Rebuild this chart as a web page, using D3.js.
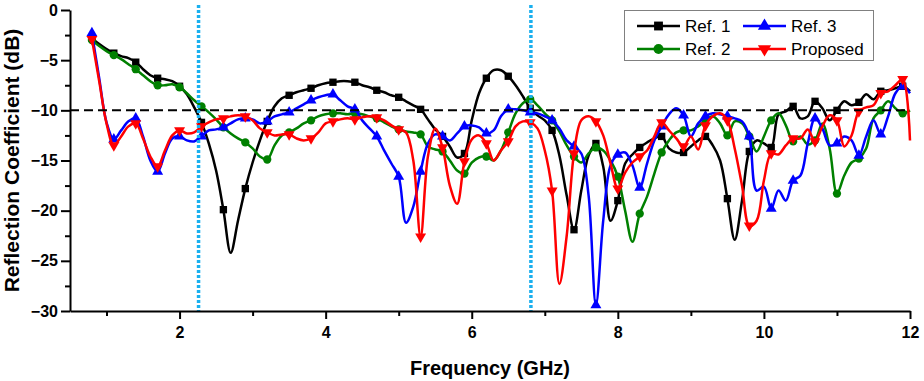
<!DOCTYPE html>
<html>
<head>
<meta charset="utf-8">
<script src="https://cdn.jsdelivr.net/npm/d3@7"></script>
<style>
  body { margin: 0; background: #fff; }
  text { font-family: "Liberation Sans", Arial, sans-serif; }
</style>
</head>
<body>
<div id="chart"></div>
<script>
// frequency grid (GHz)
const freq = [
  0.8, 0.9, 1.0, 1.1, 1.2, 1.3, 1.4, 1.5, 1.6, 1.7, 1.8, 1.9,
  2.0, 2.1, 2.2, 2.3, 2.4, 2.5, 2.6, 2.7, 2.8, 2.9,
  3.0, 3.1, 3.2, 3.3, 3.4, 3.5, 3.6, 3.7, 3.8, 3.9,
  4.0, 4.1, 4.2, 4.3, 4.4, 4.5, 4.6, 4.7, 4.8, 4.9,
  5.0, 5.1, 5.2, 5.3, 5.4, 5.5, 5.6, 5.7, 5.8, 5.9,
  6.0, 6.1, 6.2, 6.3, 6.4, 6.5, 6.6, 6.7, 6.8, 6.9,
  7.0, 7.1, 7.2, 7.3, 7.4, 7.5, 7.6, 7.7, 7.8, 7.9,
  8.0, 8.1, 8.2, 8.3, 8.4, 8.5, 8.6, 8.7, 8.8, 8.9,
  9.0, 9.1, 9.2, 9.3, 9.4, 9.5, 9.6, 9.7, 9.8, 9.9,
  10.0, 10.1, 10.2, 10.3, 10.4, 10.5, 10.6, 10.7, 10.8, 10.9,
  11.0, 11.1, 11.2, 11.3, 11.4, 11.5, 11.6, 11.7, 11.8, 11.9,
  12.0
];

// reflection coefficient (dB)
const ref1 = [
  -2.8, -3.4, -3.9, -4.3, -4.6, -4.8, -5.2, -5.9, -6.5, -6.8, -6.9, -7.1,
  -7.6, -8.4, -9.7, -11.2, -13.3, -16.0, -19.9, -24.2, -21.0, -17.8,
  -15.2, -13.0, -11.1, -9.6, -8.8, -8.5, -8.2, -8.0, -7.8, -7.5,
  -7.3, -7.2, -7.1, -7.1, -7.2, -7.5, -7.7, -8.0, -8.2, -8.5,
  -8.7, -9.1, -9.5, -9.9, -10.9, -11.9, -12.6, -13.6, -14.7, -14.3,
  -11.0, -8.3, -6.8, -6.0, -6.0, -6.6, -7.5, -8.6, -9.8, -10.5,
  -11.0, -12.0, -14.5, -18.5, -21.9, -18.0, -14.5, -13.3, -15.6, -21.0,
  -19.0, -15.3, -14.4, -13.7, -13.2, -12.8, -12.6, -13.8, -14.2, -14.2,
  -13.6, -13.0, -12.6, -13.5, -15.0, -18.8, -22.9, -19.0, -14.1, -13.0,
  -13.3, -13.7, -10.4, -10.1, -9.6, -10.8, -10.6, -9.1, -9.8, -11.0,
  -10.0, -9.1, -9.5, -9.2, -8.4, -8.9, -8.1, -8.0, -7.8, -7.6,
  -8.1
];

const ref2 = [
  -3.0, -3.6, -4.1, -4.5, -4.9, -5.4, -5.9, -6.5, -7.1, -7.5, -7.5, -7.4,
  -7.7, -8.3, -9.0, -9.6, -10.2, -10.9, -11.7, -12.3, -12.8, -13.2,
  -13.8, -14.6, -14.9, -13.5, -12.5, -12.2, -11.8, -11.3, -11.0, -10.6,
  -10.4, -10.3, -10.3, -10.4, -10.3, -10.4, -10.6, -10.8, -11.2, -11.6,
  -11.9, -12.1, -12.2, -12.4, -13.6, -13.9, -14.1, -15.0, -16.0, -16.3,
  -15.2, -14.7, -14.6, -15.0, -14.0, -12.2, -10.3, -9.3, -8.9, -9.5,
  -10.3, -11.0, -12.1, -13.5, -14.6, -15.2, -14.3, -13.7, -14.0, -15.0,
  -16.6, -20.0, -23.1, -20.3, -18.6, -16.3, -14.2, -13.0, -12.2, -12.0,
  -12.0, -11.6, -11.0, -10.6, -11.3, -12.5, -11.1, -11.3, -12.6, -14.1,
  -12.6, -11.0, -10.3, -11.5, -13.1, -12.6, -13.4, -13.0, -11.3, -13.8,
  -18.3, -16.5, -15.2, -14.8, -13.8, -10.8, -10.0, -9.1, -9.8, -10.3,
  -10.0
];

const ref3 = [
  -2.3, -6.8, -11.2, -12.9, -12.0, -11.1, -10.8, -12.6, -15.0, -16.1, -14.3, -12.8,
  -12.6, -13.0, -13.1, -12.6, -12.0, -11.9, -11.7, -11.3, -10.9, -10.8,
  -10.9, -11.3, -11.1, -10.6, -10.4, -10.2, -9.8, -9.4, -9.0, -8.7,
  -8.5, -8.4, -9.0, -9.6, -9.9, -11.0, -11.8, -12.6, -14.0, -15.3,
  -16.6, -21.2, -19.6, -16.1, -13.3, -12.4, -12.6, -13.0, -12.3, -11.6,
  -11.5, -11.7, -12.3, -12.0, -10.6, -9.9, -9.9, -10.0, -10.2, -10.3,
  -10.6, -11.0, -11.8, -13.0, -13.6, -14.3, -18.5, -29.4, -21.0, -15.5,
  -14.4, -14.2, -15.5, -17.7, -15.3, -13.0, -11.6, -10.4, -9.8, -10.5,
  -12.6, -11.3, -10.6, -10.3, -10.4, -10.6, -10.8, -11.1, -12.6, -18.0,
  -17.6, -19.8, -18.0, -19.0, -17.0, -16.5, -13.3, -10.8, -11.8, -13.5,
  -13.3, -12.6, -13.0, -14.5, -12.6, -11.0, -12.4, -10.6, -8.3, -7.6,
  -8.3
];

const proposed = [
  -2.9, -7.1, -11.3, -13.5, -12.6, -11.6, -11.3, -12.8, -14.6, -15.6, -14.0, -12.5,
  -12.0, -12.3, -12.2, -11.6, -11.2, -10.9, -10.8, -10.6, -10.5, -10.6,
  -11.0, -11.8, -12.2, -12.5, -12.4, -12.4, -12.8, -13.0, -12.8, -12.2,
  -11.3, -11.1, -10.9, -10.8, -10.9, -10.7, -10.6, -10.7, -11.0, -11.5,
  -11.9, -12.2, -15.0, -22.6, -14.6, -11.8, -13.7, -17.5, -19.3, -15.1,
  -12.9, -12.5, -13.3, -15.0, -14.0, -13.1, -11.6, -11.1, -11.2, -11.8,
  -14.0, -18.0, -27.3, -22.5, -14.3, -11.0, -10.6, -11.1, -12.5, -15.3,
  -17.8, -16.2, -15.2, -14.6, -14.0, -12.6, -11.2, -12.0, -12.8, -13.6,
  -12.6, -13.9, -11.5, -10.6, -10.3, -11.0, -13.8, -17.5, -21.5, -21.0,
  -17.0, -14.3, -14.4, -13.5, -12.8, -12.8, -11.9, -13.1, -11.6, -10.5,
  -11.0, -13.6, -12.5, -10.1, -9.7, -9.5, -8.3, -8.1, -7.5, -6.9,
  -13.0
];

const seriesNames = ["Ref. 1", "Ref. 2", "Ref. 3", "Proposed"];
const seriesValues = [ref1, ref2, ref3, proposed];
const seriesColors = ["#000000", "#008000", "#0000ff", "#ff0000"];
const seriesSymbols = ["square", "circle", "up", "down"];

const xMajorTicks = [2, 4, 6, 8, 10, 12];
const xMinorTicks = [1, 3, 5, 7, 9, 11];
const yMajorTicks = [0, -5, -10, -15, -20, -25, -30];
const yMinorTicks = [-2.5, -7.5, -12.5, -17.5, -22.5, -27.5];
const threshold = -10;
const bandEdges = [2.26, 6.81];

const W = 924, H = 381;
const margin = { top: 10, right: 14, bottom: 70, left: 70 };

const svg = d3.select("#chart")
  .append("svg")
    .attr("width", W)
    .attr("height", H);

const x = d3.scaleLinear()
  .domain([0.5, 12])
  .range([margin.left, W - margin.right]);

const y = d3.scaleLinear()
  .domain([-30, 0])
  .range([H - margin.bottom, margin.top]);

function symbolPath(kind, big) {
  const k = big ? 1.45 : 1;
  if (kind === "square") return d3.symbol(d3.symbolSquare, 54 * k)();
  if (kind === "circle") return d3.symbol(d3.symbolCircle, 54 * k)();
  return d3.symbol(d3.symbolTriangle, 52 * k)();
}

const line = d3.line()
  .x(d => x(d.f))
  .y(d => y(d.v))
  .curve(d3.curveCatmullRom.alpha(0.5));

const plot = svg.append("g");

seriesValues.forEach((vals, i) => {
  const pts = freq.map((f, j) => ({ f, v: vals[j], j }));
  const g = plot.append("g");

  g.append("path")
    .attr("fill", "none")
    .attr("stroke", seriesColors[i])
    .attr("stroke-width", 2.5)
    .attr("stroke-linejoin", "round")
    .attr("d", line(pts));

  // a marker on every third sample
  g.selectAll("path.mk")
    .data(pts.filter(d => d.j % 3 === 0))
    .join("path")
      .attr("class", "mk")
      .attr("d", symbolPath(seriesSymbols[i]))
      .attr("fill", seriesColors[i])
      .attr("transform", d => `translate(${x(d.f)},${y(d.v)})` +
        (seriesSymbols[i] === "down" ? " rotate(180)" : ""));
});

// -10 dB reference
svg.append("line")
  .attr("x1", x(0.5))
  .attr("x2", x(12))
  .attr("y1", y(threshold))
  .attr("y2", y(threshold))
  .attr("stroke", "#000")
  .attr("stroke-width", 2)
  .attr("stroke-dasharray", "9,5");

// band edges
svg.selectAll("line.band")
  .data(bandEdges)
  .join("line")
    .attr("class", "band")
    .attr("x1", d => x(d))
    .attr("x2", d => x(d))
    .attr("y1", y(0) - 5)
    .attr("y2", y(-30))
    .attr("stroke", "#1ab0ef")
    .attr("stroke-width", 3.5)
    .attr("stroke-dasharray", "3,2");

// axes
const axisY = H - margin.bottom;

svg.append("g")
  .attr("transform", `translate(0,${axisY})`)
  .call(d3.axisBottom(x).tickValues(xMajorTicks).tickSize(8).tickSizeOuter(0).tickPadding(8).tickFormat(d3.format("d")));

svg.append("g")
  .attr("transform", `translate(0,${axisY})`)
  .call(d3.axisBottom(x).tickValues(xMinorTicks).tickSize(5).tickSizeOuter(0).tickFormat(""))
  .select(".domain").remove();

svg.append("g")
  .attr("transform", `translate(${margin.left},0)`)
  .call(d3.axisLeft(y).tickValues(yMajorTicks).tickSize(9).tickSizeOuter(0).tickPadding(3).tickFormat(d3.format("d")));

svg.append("g")
  .attr("transform", `translate(${margin.left},0)`)
  .call(d3.axisLeft(y).tickValues(yMinorTicks).tickSize(5).tickSizeOuter(0).tickFormat(""))
  .select(".domain").remove();

svg.selectAll(".domain, .tick line")
  .attr("stroke", "#000")
  .attr("stroke-width", 2);

svg.selectAll(".tick text")
  .attr("fill", "#000")
  .style("font-family", "'Liberation Sans', Arial, sans-serif")
  .style("font-size", "16px")
  .style("font-weight", "bold");

svg.append("text")
  .attr("x", (x(0.5) + x(12)) / 2)
  .attr("y", 375)
  .attr("text-anchor", "middle")
  .style("font-size", "20px")
  .style("font-weight", "bold")
  .text("Frequency (GHz)");

svg.append("text")
  .attr("transform", `translate(19,${(y(0) + y(-30)) / 2}) rotate(-90)`)
  .attr("text-anchor", "middle")
  .style("font-size", "21px")
  .style("font-weight", "bold")
  .text("Reflection Coefficient (dB)");

// legend
const legend = svg.append("g").attr("transform", "translate(624,10)");

legend.append("rect")
  .attr("x", 0.5)
  .attr("y", 0.5)
  .attr("width", 249)
  .attr("height", 50)
  .attr("fill", "#fff")
  .attr("stroke", "#808080")
  .attr("stroke-width", 1);

// column-major order: Ref. 1, Ref. 2 | Ref. 3, Proposed
seriesNames.forEach((name, i) => {
  const col = Math.floor(i / 2), row = i % 2;
  const item = legend.append("g")
    .attr("transform", `translate(${13 + col * 106},${16 + row * 23})`);
  item.append("line")
    .attr("x1", 0).attr("x2", 43)
    .attr("stroke", seriesColors[i])
    .attr("stroke-width", 2.5);
  item.append("path")
    .attr("d", symbolPath(seriesSymbols[i], true))
    .attr("fill", seriesColors[i])
    .attr("transform", "translate(21.5,0)" + (seriesSymbols[i] === "down" ? " rotate(180)" : ""));
  item.append("text")
    .attr("x", 48)
    .attr("dy", "0.36em")
    .style("font-size", "17px")
    .text(name);
});
</script>
</body>
</html>
